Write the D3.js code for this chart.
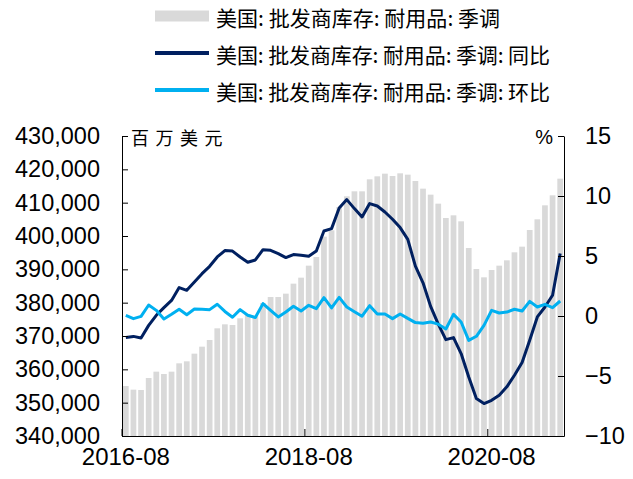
<!DOCTYPE html>
<html>
<head>
<meta charset="utf-8">
<script src="https://cdn.jsdelivr.net/npm/d3@7"></script>
<style>
  html, body { margin: 0; padding: 0; background: #ffffff; }
  svg { display: block; }
</style>
</head>
<body>
<svg id="chart" width="633" height="479"></svg>
<script>
// ---- Data ----
const months = [
  "2016-08","2016-09","2016-10","2016-11","2016-12",
  "2017-01","2017-02","2017-03","2017-04","2017-05","2017-06","2017-07","2017-08","2017-09","2017-10","2017-11","2017-12",
  "2018-01","2018-02","2018-03","2018-04","2018-05","2018-06","2018-07","2018-08","2018-09","2018-10","2018-11","2018-12",
  "2019-01","2019-02","2019-03","2019-04","2019-05","2019-06","2019-07","2019-08","2019-09","2019-10","2019-11","2019-12",
  "2020-01","2020-02","2020-03","2020-04","2020-05","2020-06","2020-07","2020-08","2020-09","2020-10","2020-11","2020-12",
  "2021-01","2021-02","2021-03","2021-04","2021-05"
];
// 美国: 批发商库存: 耐用品: 季调 (百万美元)
const inventory = [
  355000,353900,353800,357400,359300,
  358600,359300,361800,362400,364700,366800,368800,372300,373500,373300,375300,376500,
  375900,379900,381700,381700,382700,385700,387500,391100,393700,399800,401700,408700,
  411900,413400,413400,417000,417900,418700,418000,418800,418400,416500,414200,412400,
  409700,405400,406200,404400,396400,390100,387600,389800,391100,392700,395100,396800,
  401800,405000,409200,412200,417200
];
// 同比 (%)
const yoy = [
  -1.80,-1.70,-1.83,-0.78,0.06,
  0.70,1.30,2.37,2.14,2.83,3.53,4.14,4.92,5.45,5.41,4.92,4.48,
  4.67,5.53,5.47,5.20,4.87,5.12,5.06,4.98,5.42,7.08,7.28,9.00,
  9.70,8.95,8.25,9.37,9.17,8.67,8.06,7.37,6.39,4.15,2.77,0.80,
  -0.67,-1.97,-1.80,-3.13,-5.08,-6.88,-7.30,-7.03,-6.60,-5.90,-4.94,-3.88,
  -2.03,-0.08,0.75,1.73,5.20
];
// 环比 (%)
const mom = [
  0.06,-0.22,-0.03,0.92,0.47,
  -0.25,0.14,0.56,0.11,0.58,0.56,0.53,0.98,0.38,-0.10,0.53,0.06,
  -0.13,1.03,0.47,-0.08,0.33,0.81,0.42,0.89,0.61,1.53,0.67,1.55,
  0.75,0.36,-0.02,0.86,0.17,0.17,-0.22,0.17,-0.20,-0.55,-0.60,-0.50,
  -0.68,-1.08,0.14,-0.50,-2.03,-1.69,-0.78,0.47,0.25,0.33,0.56,0.42,
  1.22,0.75,0.97,0.69,1.25
];
const xTickLabels = ["2016-08","2018-08","2020-08"];
const leftTicks = [340000,350000,360000,370000,380000,390000,400000,410000,420000,430000];
const rightTicks = [-10,-5,0,5,10,15];
const seriesNames = [
  "美国: 批发商库存: 耐用品: 季调",
  "美国: 批发商库存: 耐用品: 季调: 同比",
  "美国: 批发商库存: 耐用品: 季调: 环比"
];
const leftUnit = "百万美元";
const rightUnit = "%";

// ---- Layout ----
const svg = d3.select("#chart");
const L = 122, R = 564, T = 136, B = 436;
const colBar = "#d9d9d9", colYoy = "#002060", colMom = "#00b0f0";
const numFont = "'Liberation Sans', Arial, sans-serif";
const cjkFont = "'Noto Sans CJK SC', sans-serif";

const x = d3.scaleBand().domain(months).range([L, R]).paddingInner(0.25).paddingOuter(0.125);
const yL = d3.scaleLinear().domain([340000, 430000]).range([B, T]);
const yR = d3.scaleLinear().domain([-10, 15]).range([B, T]);
const slotLeft = d => x(d) - (x.step() - x.bandwidth()) / 2;

// bars
svg.append("g").selectAll("rect").data(inventory).join("rect")
  .attr("x", (d, i) => x(months[i]))
  .attr("width", x.bandwidth())
  .attr("y", d => yL(d))
  .attr("height", d => B - yL(d))
  .attr("fill", colBar);

// lines
const lineFn = d3.line().x((d, i) => x(months[i]) + x.bandwidth() / 2).y(d => yR(d));
svg.append("path").datum(yoy).attr("d", lineFn)
  .attr("fill", "none").attr("stroke", colYoy).attr("stroke-width", 3).attr("stroke-linejoin", "round");
svg.append("path").datum(mom).attr("d", lineFn)
  .attr("fill", "none").attr("stroke", colMom).attr("stroke-width", 3).attr("stroke-linejoin", "round");

// left axis
const gL = svg.append("g").attr("transform", `translate(${L},0)`)
  .call(d3.axisLeft(yL).tickValues(leftTicks).tickFormat(d3.format(",")).tickSizeInner(-6).tickSizeOuter(0).tickPadding(22));
gL.selectAll("text").attr("font-family", numFont).attr("font-size", 23.5).attr("fill", "#000");
gL.selectAll("line, path").attr("stroke", "#000");

// right axis
const gR = svg.append("g").attr("transform", `translate(${R},0)`)
  .call(d3.axisRight(yR).tickValues(rightTicks).tickSizeInner(-6).tickSizeOuter(0).tickPadding(21));
gR.selectAll("text").attr("font-family", numFont).attr("font-size", 23.5).attr("fill", "#000");
gR.selectAll("line, path").attr("stroke", "#000");

// bottom axis
const gB = svg.append("g").attr("transform", `translate(0,${B})`)
  .call(d3.axisBottom(x).tickValues(xTickLabels).tickSize(0).tickPadding(12));
gB.select("path").attr("stroke", "#000");
gB.selectAll("text").attr("font-family", numFont).attr("font-size", 24).attr("fill", "#000");
gB.selectAll(".tk").data(xTickLabels).join("line")
  .attr("x1", d => slotLeft(d)).attr("x2", d => slotLeft(d))
  .attr("y1", 0).attr("y2", -7).attr("stroke", "#000");

// unit labels
svg.append("text").attr("x", 131).attr("y", 137).attr("dominant-baseline", "central")
  .attr("font-family", cjkFont).attr("font-size", 18).attr("letter-spacing", 6.5)
  .text(leftUnit);
svg.append("text").attr("x", 553).attr("y", 137).attr("dominant-baseline", "central")
  .attr("text-anchor", "end").attr("font-family", numFont).attr("font-size", 20)
  .text(rightUnit);

// legend
const lg = svg.append("g");
const rowsY = [16, 53, 90];
const swL = 155, swR = 209, txL = 216;
const textEnds = [500, 550, 550];
lg.append("rect").attr("x", swL).attr("y", rowsY[0] - 5.5).attr("width", swR - swL).attr("height", 11).attr("fill", colBar);
lg.append("line").attr("x1", swL).attr("x2", swR).attr("y1", rowsY[1]).attr("y2", rowsY[1]).attr("stroke", colYoy).attr("stroke-width", 4);
lg.append("line").attr("x1", swL).attr("x2", swR).attr("y1", rowsY[2]).attr("y2", rowsY[2]).attr("stroke", colMom).attr("stroke-width", 4);
lg.selectAll("text.lt").data(seriesNames).join("text")
  .attr("x", txL).attr("y", (d, i) => rowsY[i] + 1).attr("dominant-baseline", "central")
  .attr("font-family", cjkFont).attr("font-size", 21).attr("fill", "#000")
  .attr("textLength", (d, i) => textEnds[i] - txL).attr("lengthAdjust", "spacing")
  .text(d => d);
</script>
</body>
</html>
